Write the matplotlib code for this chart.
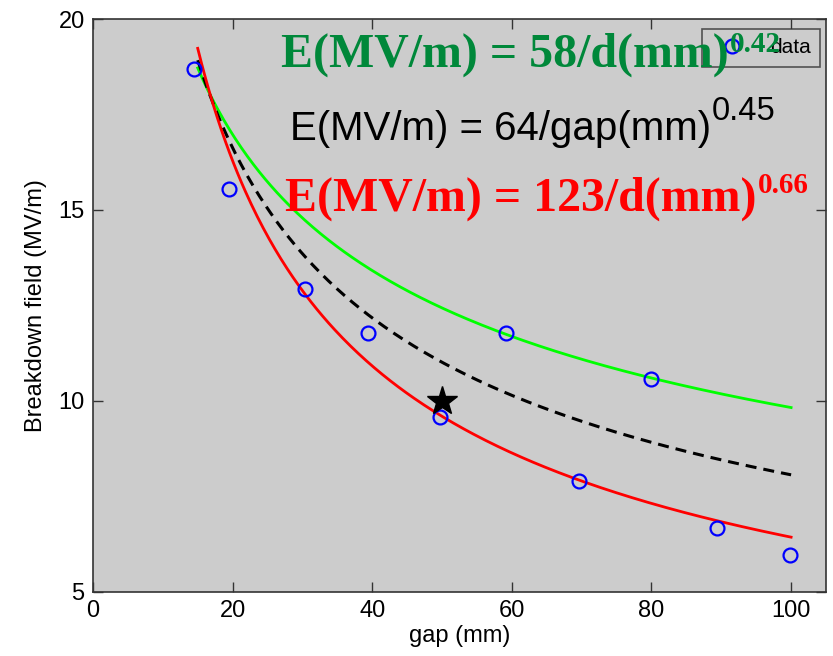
import numpy as np
import matplotlib
matplotlib.use("Agg")
import matplotlib.pyplot as plt
from matplotlib.transforms import offset_copy

# Measured breakdown fields
gap_mm = [14.5, 19.5, 30.4, 39.4, 49.7, 59.2, 69.6, 79.9, 89.4, 99.9]
field_mvm = [18.68, 15.54, 12.92, 11.77, 9.57, 11.77, 7.89, 10.57, 6.66, 5.96]

# Reference point
star_gap = [50]
star_field = [10]

# Power-law curves E = A / d^n
fit_range = [15, 100]
green_fit = (47.0, 0.34)
black_fit = (64.0, 0.45)
red_fit = (92.0, 0.578)

# Equation labels: (main text, exponent)
green_label = ("E(MV/m) = 58/d(mm)", "0.42")
black_label = ("E(MV/m) = 64/gap(mm)", "0.45")
red_label = ("E(MV/m) = 123/d(mm)", "0.66")

x_ticks = [0, 20, 40, 60, 80, 100]
y_ticks = [5, 10, 15, 20]

plt.rcParams["font.family"] = ["Liberation Sans", "DejaVu Sans"]

fig = plt.figure(figsize=(8.33, 6.56), dpi=100)
fig.patch.set_facecolor("white")
ax = fig.add_axes([93 / 833, 1 - 591.5 / 656, (826 - 93) / 833, (591.5 - 19) / 656])
ax.set_facecolor("#cccccc")

d = np.linspace(fit_range[0], fit_range[1], 300)


def power(fit):
    a, n = fit
    return a / d ** n


ax.plot(d, power(green_fit), color="#00ff00", lw=2.0, zorder=3)
ax.plot(d, power(black_fit), color="black", lw=2.2, dashes=(3.6, 2.3), zorder=3)
ax.plot(d, power(red_fit), color="#ff0000", lw=2.0, zorder=3)
data_line, = ax.plot(gap_mm, field_mvm, linestyle="none", marker="o", ms=10,
                     mfc="none", mec="#0000ff", mew=1.6, zorder=4, label="data")
ax.plot(star_gap, star_field, linestyle="none", marker="*", ms=22,
        color="black", zorder=5)

ax.set_xlim(0, 105)
ax.set_ylim(5, 20)
ax.set_xticks(x_ticks)
ax.set_yticks(y_ticks)
ax.tick_params(direction="in", length=7, width=1, top=True, right=True,
               labelsize=17, color="#333333", pad=6)
for s in ax.spines.values():
    s.set_color("#333333")
    s.set_linewidth(1.2)

ax.set_xlabel("gap (mm)", fontsize=17, labelpad=2)
ax.set_ylabel("Breakdown field (MV/m)", fontsize=17, labelpad=8)

leg = ax.legend(handles=[data_line], loc="upper right", fontsize=15,
                frameon=True, fancybox=False, facecolor="#cccccc",
                edgecolor="#333333", handlelength=2.0, handletextpad=0.8,
                borderpad=0.45, borderaxespad=0.0,
                bbox_to_anchor=((820 - 93) / 733, (591.5 - 29) / 572.5))
leg.get_frame().set_linewidth(1.2)
leg.set_zorder(2)


def px_to_data(px, py):
    return ((px - 93) / 6.98, 5 + (591.5 - py) / 38.17)


fig.canvas.draw()
renderer = fig.canvas.get_renderer()


def equation(label, pos, color, family, weight, size, sup_size, sup_rise):
    x, y = px_to_data(*pos)
    main = ax.text(x, y, label[0], color=color, family=family, weight=weight,
                   fontsize=size, va="baseline", ha="left", zorder=6)
    bb = main.get_window_extent(renderer)
    xe, _ = ax.transData.inverted().transform((bb.x1, 0))
    ax.text(xe, y, label[1], color=color, family=family, weight=weight,
            fontsize=sup_size, va="baseline", ha="left", zorder=6,
            transform=offset_copy(ax.transData, fig=fig, x=1, y=sup_rise,
                                  units="dots"))


equation(green_label, (281, 67), "#00883a", ["Liberation Serif"], "bold", 34.5, 21, 15)
equation(black_label, (290, 140), "black", ["Liberation Sans"], "normal", 29, 23.5, 20)
equation(red_label, (285, 211), "#ff0000", ["Liberation Serif"], "bold", 34.5, 21, 18)

fig.savefig("out.png", dpi=100)
